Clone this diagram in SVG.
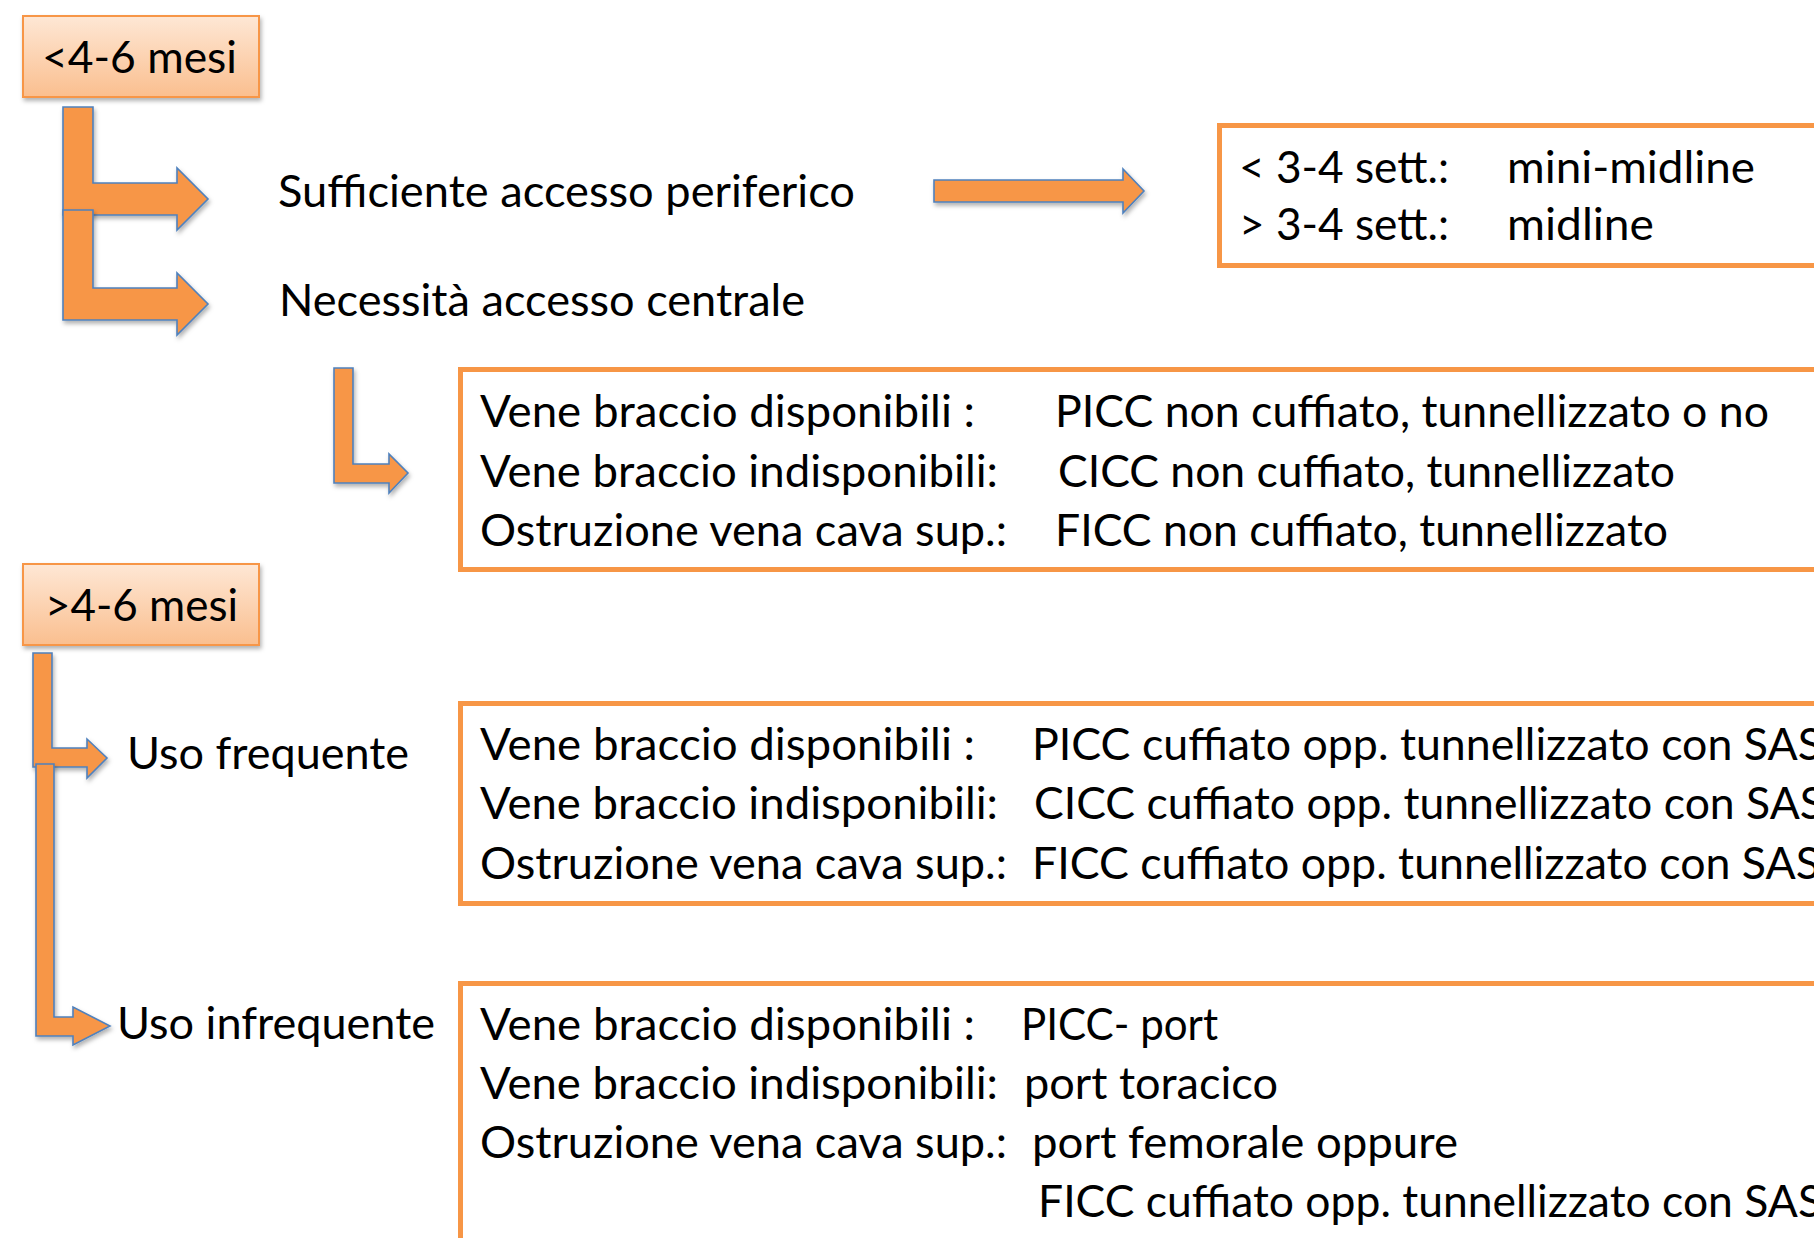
<svg xmlns="http://www.w3.org/2000/svg" width="1814" height="1238" viewBox="0 0 1814 1238">
  <defs>
    <linearGradient id="hdrFill" x1="0" y1="0" x2="0" y2="1">
      <stop offset="0" stop-color="#fee7d5"/>
      <stop offset="1" stop-color="#fabf8f"/>
    </linearGradient>
    <filter id="shadow" x="-10%" y="-10%" width="130%" height="140%">
      <feDropShadow dx="1.5" dy="3" stdDeviation="2" flood-color="#000" flood-opacity="0.3"/>
    </filter>
    <style>
      text { font-family: Lato, "Open Sans", "DejaVu Sans", sans-serif; font-size: 44px; fill: #000; }
      .hdr { fill: url(#hdrFill); stroke: #f79646; stroke-width: 2; filter: url(#shadow); }
      .box { fill: #fff; stroke: #f79646; stroke-width: 5; }
      .arrow { fill: #f79646; stroke: #4f81bd; stroke-width: 1.6; stroke-linejoin: miter; filter: url(#shadow); }
    </style>
  </defs>
  <rect width="1814" height="1238" fill="#fff"/>

  <g id="connectors">
    <polygon class="arrow" points="63,107 93,107 93,183 177,183 177,168 208,199 177,230 177,215 63,215"/>
    <polygon class="arrow" points="63,210 93,210 93,288 177,288 177,273 208,304 177,335 177,320 63,320"/>
    <polygon class="arrow" points="934,180 1123,180 1123,169 1144,191 1123,213 1123,202 934,202"/>
    <polygon class="arrow" points="334,368 353,368 353,464 389,464 389,454 408,473 389,493 389,483 334,483"/>
    <polygon class="arrow" points="33,653 52,653 52,748 87,748 87,739 107,758 87,778 87,767 33,767"/>
    <polygon class="arrow" points="36,764 54,764 54,1017 73,1017 73,1007 110,1026 73,1045 73,1036 36,1036"/>
  </g>

  <g id="node-lt46">
    <rect class="hdr" x="23" y="16" width="236" height="81"/>
    <text x="42" y="73" textLength="195" lengthAdjust="spacingAndGlyphs">&lt;4-6 mesi</text>
  </g>

  <g id="node-sufficiente">
    <text x="278" y="207" textLength="577" lengthAdjust="spacingAndGlyphs">Sufficiente accesso periferico</text>
  </g>

  <g id="node-necessita">
    <text x="279" y="316" textLength="526" lengthAdjust="spacingAndGlyphs">Necessità accesso centrale</text>
  </g>

  <g id="node-midline">
    <rect class="box" x="1219.5" y="125.5" width="620" height="140"/>
    <text x="1239" y="183" textLength="210" lengthAdjust="spacingAndGlyphs">&lt; 3-4 sett.:</text>
    <text x="1507" y="183" textLength="248" lengthAdjust="spacingAndGlyphs">mini-midline</text>
    <text x="1239" y="240" textLength="210" lengthAdjust="spacingAndGlyphs">&gt; 3-4 sett.:</text>
    <text x="1507" y="240" textLength="147" lengthAdjust="spacingAndGlyphs">midline</text>
  </g>

  <g id="node-central">
    <rect class="box" x="460.5" y="369.5" width="1380" height="200"/>
    <text x="480" y="427" textLength="495" lengthAdjust="spacingAndGlyphs">Vene braccio disponibili :</text>
    <text x="1055" y="427" textLength="714" lengthAdjust="spacingAndGlyphs">PICC non cuffiato, tunnellizzato o no</text>
    <text x="480" y="487" textLength="518" lengthAdjust="spacingAndGlyphs">Vene braccio indisponibili:</text>
    <text x="1058" y="487" textLength="617" lengthAdjust="spacingAndGlyphs">CICC non cuffiato, tunnellizzato</text>
    <text x="480" y="546" textLength="527" lengthAdjust="spacingAndGlyphs">Ostruzione vena cava sup.:</text>
    <text x="1055" y="546" textLength="613" lengthAdjust="spacingAndGlyphs">FICC non cuffiato, tunnellizzato</text>
  </g>

  <g id="node-gt46">
    <rect class="hdr" x="23" y="564" width="236" height="81"/>
    <text x="45" y="621" textLength="193" lengthAdjust="spacingAndGlyphs">&gt;4-6 mesi</text>
  </g>

  <g id="node-uso-frequente">
    <text x="127" y="769" textLength="282" lengthAdjust="spacingAndGlyphs">Uso frequente</text>
  </g>

  <g id="node-frequente-box">
    <rect class="box" x="460.5" y="703.5" width="1380" height="200"/>
    <text x="480" y="760" textLength="495" lengthAdjust="spacingAndGlyphs">Vene braccio disponibili :</text>
    <text x="1032" y="760" textLength="790" lengthAdjust="spacingAndGlyphs">PICC cuffiato opp. tunnellizzato con SAS</text>
    <text x="480" y="819" textLength="518" lengthAdjust="spacingAndGlyphs">Vene braccio indisponibili:</text>
    <text x="1034" y="819" textLength="790" lengthAdjust="spacingAndGlyphs">CICC cuffiato opp. tunnellizzato con SAS</text>
    <text x="480" y="879" textLength="527" lengthAdjust="spacingAndGlyphs">Ostruzione vena cava sup.:</text>
    <text x="1032" y="879" textLength="788" lengthAdjust="spacingAndGlyphs">FICC cuffiato opp. tunnellizzato con SAS</text>
  </g>

  <g id="node-uso-infrequente">
    <text x="117" y="1039" textLength="318" lengthAdjust="spacingAndGlyphs">Uso infrequente</text>
  </g>

  <g id="node-infrequente-box">
    <rect class="box" x="460.5" y="983.5" width="1380" height="300"/>
    <text x="480" y="1040" textLength="495" lengthAdjust="spacingAndGlyphs">Vene braccio disponibili :</text>
    <text x="1021" y="1040" textLength="197" lengthAdjust="spacingAndGlyphs">PICC- port</text>
    <text x="480" y="1099" textLength="518" lengthAdjust="spacingAndGlyphs">Vene braccio indisponibili:</text>
    <text x="1024" y="1099" textLength="254" lengthAdjust="spacingAndGlyphs">port toracico</text>
    <text x="480" y="1158" textLength="527" lengthAdjust="spacingAndGlyphs">Ostruzione vena cava sup.:</text>
    <text x="1032" y="1158" textLength="426" lengthAdjust="spacingAndGlyphs">port femorale oppure</text>
    <text x="1038" y="1217" textLength="784" lengthAdjust="spacingAndGlyphs">FICC cuffiato opp. tunnellizzato con SAS</text>
  </g>
</svg>
